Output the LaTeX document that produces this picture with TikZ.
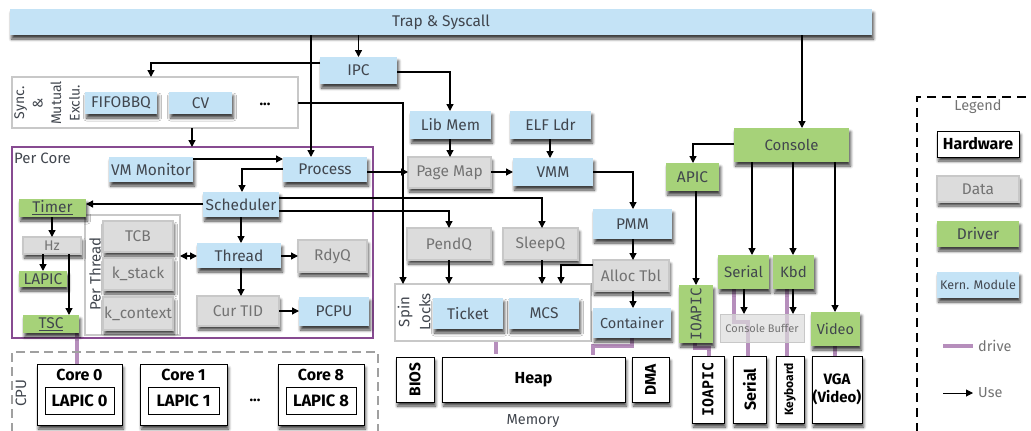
\documentclass[tikz,border=0pt]{standalone}
\usepackage{fontspec}
\setmainfont{Fira Sans}
\newfontfamily\monof{DejaVu Sans Mono}
\usetikzlibrary{arrows.meta,shadows.blur,calc}
\pgfdeclarelayer{bg}
\pgfsetlayers{bg,main}
\definecolor{kblue}{RGB}{196,227,246}
\definecolor{kgreen}{RGB}{166,210,121}
\definecolor{kgray}{RGB}{220,220,220}
\definecolor{kgrayb}{RGB}{200,200,200}
\definecolor{ktext}{RGB}{65,70,78}
\definecolor{kgtext}{RGB}{115,115,115}
\definecolor{kpurple}{RGB}{135,75,145}
\definecolor{kdrive}{RGB}{182,142,188}
\definecolor{kmem}{RGB}{212,212,212}
% \bx{style}{x1}{y1}{x2}{y2}{name}{text}
\newcommand{\bx}[7]{\node[#1,minimum width={(#4-#2)*1pt},minimum height={(#5-#3)*1pt}] (#6) at ({(#2+#4)/2},{(#3+#5)/2}) {#7};}
\newcommand{\fsz}[1]{\fontsize{#1}{#1}\selectfont}
\begin{document}
\begin{tikzpicture}[x=1pt,y=-1pt,
 sh/.style={blur shadow={shadow xshift=1.5pt,shadow yshift=-4pt,shadow blur steps=6,shadow blur radius=3pt,shadow opacity=75}},
 base/.style={inner sep=0pt,outer sep=0pt,font=\fsz{15.5}},
 kern/.style={base,sh,fill=kblue,text=ktext},
 datab/.style={base,sh,fill=kgray,draw=kgrayb,line width=1.2pt,text=kgtext},
 drv/.style={base,sh,fill=kgreen,text=ktext},
 hw/.style={base,sh,fill=white,draw=black,line width=1pt,font=\fsz{16}\bfseries},
 hwin/.style={base,fill=white,draw=black,line width=0.8pt,font=\fsz{16.5}\bfseries},
 grp/.style={draw=kgrayb,line width=1.2pt,inner sep=0pt,outer sep=0pt,fill=white},
 lbl/.style={inner sep=0pt,text=ktext,font=\fsz{15}},
 use/.style={-{Triangle[length=7pt,width=7pt]},line width=1.3pt},
 drive/.style={kdrive,line width=3.5pt},
]
\useasboundingbox (0,0) rectangle (1031,431);
% ---------- groups ----------
\bx{grp}{12}{77}{298}{128}{sync}{}
\node[lbl,rotate=90,align=center,font=\fontsize{14}{18.5}\selectfont] at (47,103) {Sync.\\\&\\Mutual\\Exclu.};
\bx{grp,draw=kpurple,line width=1.5pt,fill=none}{12}{147}{373}{338}{percore}{}
\node[lbl,anchor=west] at (14,158) {Per Core};
\bx{grp}{85}{215}{180}{335}{perthread}{}
\node[lbl,rotate=90] at (95,274) {Per Thread};
\bx{grp}{395}{284}{591}{341}{spin}{}
\node[lbl,rotate=90,align=center,font=\fontsize{15}{21}\selectfont] at (414,312) {Spin\\Locks};
\bx{grp,draw=kgrayb!80!black,dashed,dash pattern=on 9pt off 5pt,fill=none}{12}{352}{378}{445}{cpu}{}
\node[lbl,rotate=90] at (21,393) {CPU};
\bx{grp,draw=black,dashed,dash pattern=on 9pt off 6pt,fill=none}{917}{97}{1045}{445}{legend}{}
\node[lbl,text=kgtext,font=\fsz{14.5}] at (978,107) {Legend};
\begin{pgfonlayer}{bg}
\bx{grp,fill=kmem,draw=kgrayb,line width=1.5pt}{390}{349}{676}{445}{memory}{}
\end{pgfonlayer}
\node[lbl,font=\fsz{14.5}] at (533,421) {Memory};
% ---------- kernel modules ----------
\bx{kern}{10}{9}{872}{35}{trap}{Trap \& Syscall}
\bx{kern}{320}{57}{397}{84}{ipc}{IPC}
\bx{kern}{85}{92}{157}{114}{fifo}{FIFOBBQ}
\bx{kern}{169}{92}{232}{114}{cv}{CV}
\node[inner sep=0pt,font=\fsz{15}\bfseries] (sdots) at (265,104) {...};
\bx{kern}{109}{157}{193}{182}{vmmon}{VM Monitor}
\bx{kern}{283}{157}{367}{182}{process}{Process}
\bx{kern}{203}{192}{279}{217}{sched}{Scheduler}
\bx{kern}{197}{243}{281}{268}{thread}{Thread}
\bx{kern}{299}{297}{369}{326}{pcpu}{PCPU}
\bx{kern}{410}{111}{491}{139}{libmem}{Lib Mem}
\bx{kern}{510}{111}{591}{139}{elf}{ELF Ldr}
\bx{kern}{513}{158}{593}{186}{vmm}{VMM}
\bx{kern}{593}{209}{672}{239}{pmm}{PMM}
\bx{kern,font=\fsz{14.5}}{593}{308}{671}{338}{container}{Container}
\bx{kern}{433}{298}{503}{329}{ticket}{Ticket}
\bx{kern}{509}{298}{579}{329}{mcs}{MCS}
% ---------- data ----------
\bx{datab,font=\fsz{14}}{23}{237}{81}{254}{hz}{Hz}
\bx{datab}{103}{221}{173}{252}{tcb}{TCB}
\bx{datab}{103}{258}{173}{290}{kstack}{k\_stack}
\bx{datab}{103}{297}{173}{330}{kctx}{k\_context}
\bx{datab}{298}{240}{367}{272}{rdyq}{RdyQ}
\bx{datab}{197}{296}{279}{326}{curtid}{Cur TID}
\bx{datab}{408}{157}{491}{188}{pagemap}{Page Map}
\bx{datab}{407}{228}{491}{260}{pendq}{PendQ}
\bx{datab}{503}{228}{578}{260}{sleepq}{SleepQ}
\bx{datab}{593}{260}{669}{291}{alloc}{Alloc Tbl}
% ---------- drivers ----------
\bx{drv}{19}{199}{86}{217}{timer}{\underline{Timer}}
\bx{drv}{19}{271}{67}{287}{lapicd}{LAPIC}
\bx{drv}{23}{315}{79}{333}{tsc}{\underline{TSC}}
\bx{drv,font=\fsz{15}}{734}{128}{849}{162}{console}{Console}
\bx{drv}{666}{163}{719}{191}{apic}{APIC}
\bx{drv}{679}{285}{713}{343}{ioapicd}{}
\node[inner sep=0pt,rotate=90,text=ktext,font=\monof\fsz{14.5}] at (ioapicd) {IOAPIC};
\bx{drv,font=\fsz{15}}{718}{255}{769}{289}{serial}{Serial}
\bx{drv,font=\fsz{15}}{773}{255}{814}{289}{kbd}{Kbd}
\bx{drv,font=\fsz{14.5}}{811}{312}{860}{346}{video}{Video}
% ---------- hardware ----------
\bx{hw}{37}{364}{122}{425}{core0}{}
\bx{hw}{140}{364}{227}{425}{core1}{}
\bx{hw}{278}{364}{364}{425}{core8}{}
\node[anchor=north,inner sep=0pt,font=\fsz{16}\bfseries] at ($(core0.north)+(0,5)$) {Core 0};
\node[anchor=north,inner sep=0pt,font=\fsz{16}\bfseries] at ($(core1.north)+(0,5)$) {Core 1};
\node[anchor=north,inner sep=0pt,font=\fsz{16}\bfseries] at ($(core8.north)+(0,5)$) {Core 8};
\bx{hwin}{45}{387}{114}{414}{lapic0}{LAPIC 0}
\bx{hwin}{148}{387}{219}{414}{lapic1}{LAPIC 1}
\bx{hwin}{286}{387}{356}{414}{lapic8}{LAPIC 8}
\node[inner sep=0pt,font=\fsz{15}\bfseries] (cdots) at (255,400) {...};
\bx{hw}{396}{357}{434}{402}{bios}{}
\node[inner sep=0pt,rotate=90,font=\fsz{15.5}\bfseries] at (bios) {BIOS};
\bx{hw}{442}{357}{625}{402}{heap}{Heap}
\bx{hw}{632}{357}{669}{402}{dma}{}
\node[inner sep=0pt,rotate=90,font=\fsz{15.5}\bfseries] at (dma) {DMA};
\bx{hw}{692}{356}{724}{423}{ioapichw}{}
\node[inner sep=0pt,rotate=90,font=\monof\bfseries\fsz{15}] at (ioapichw) {IOAPIC};
\bx{hw}{733}{356}{766}{423}{serialhw}{}
\node[inner sep=0pt,rotate=90,font=\fsz{16}\bfseries] at (serialhw) {Serial};
\bx{hw}{776}{356}{804}{423}{kbdhw}{}
\node[inner sep=0pt,rotate=90,font=\fsz{12}\bfseries] at (kbdhw) {Keyboard};
\bx{hw,align=center,font=\fontsize{15}{18}\selectfont\bfseries}{812}{356}{862}{423}{vga}{VGA\\(Video)}
% ---------- legend ----------
\bx{hw}{937}{131}{1019}{157}{lhw}{Hardware}
\bx{datab}{937}{176}{1019}{202}{ldata}{Data}
\bx{drv}{937}{221}{1019}{247}{ldrv}{Driver}
\bx{kern,font=\fsz{12.5}}{937}{272}{1019}{298}{lkern}{Kern. Module}
\coordinate (ld1) at (943,346); \coordinate (ld2) at (973,346);
\coordinate (lu1) at (943,393); \coordinate (lu2) at (973,393);
\draw[drive] (ld1) -- (ld2);
\draw[-{Triangle[length=7pt,width=7pt]},line width=1pt] (lu1) -- (lu2);
\node[lbl,anchor=west,text=kgtext,font=\fsz{14.5}] at ($(ld2)+(5,0)$) {drive};
\node[lbl,anchor=west,text=kgtext,font=\fsz{14.5}] at ($(lu2)+(5,0)$) {Use};
% ---------- drive lines ----------
\coordinate (d1) at (77,0);
\coordinate (d2) at (496,0);
\coordinate (dA) at (632,0);
\coordinate (dB) at (593,346);
\coordinate (e1) at (695,0);
\coordinate (e2) at (709,348);
\coordinate (f1) at (734,0);
\coordinate (f2) at (748,322);
\coordinate (g1) at (787,0);
\coordinate (cV) at (835,0);
\begin{pgfonlayer}{bg}
\draw[drive] (tsc.south -| d1) -- (core0.north -| d1);
\draw[drive] (spin.south -| d2) -- ($(memory.north -| d2)+(0,5)$);
\draw[drive] (container.south -| dA) |- (dB) -- ($(memory.north -| dB)+(0,6)$);
\draw[drive] (ioapicd.south -| e1) |- (e2) -- (ioapichw.north -| e2);
\draw[drive] (serial.south -| f1) |- (f2) -- (serialhw.north -| f2);
\draw[drive] (kbd.south -| g1) -- (kbdhw.north -| g1);
\draw[drive] (video.south -| cV) -- (vga.north -| cV);
\end{pgfonlayer}
\bx{base,fill=kgray,fill opacity=0.7,draw=kgrayb,line width=0.8pt,text=kgtext,text opacity=1,font=\fsz{11}}{720}{314}{804}{342}{conbuf}{Console Buffer}
% ---------- use connectors ----------
\coordinate (cA) at (311,0);
\coordinate (cC) at (802,0);
\coordinate (p1) at (151,63);
\coordinate (p2) at (450,72);
\coordinate (p3) at (403,103);
\coordinate (cSy) at (192,0);
\coordinate (p4) at (0,159);
\coordinate (p5) at (242,169);
\coordinate (p6) at (0,172);
\coordinate (p7) at (0,204);
\coordinate (p8) at (542,198);
\coordinate (p9) at (449,211);
\coordinate (cT) at (52,0);
\coordinate (cL) at (43,0);
\coordinate (cS) at (69,0);
\coordinate (cth) at (241,0);
\coordinate (p10) at (0,256);
\coordinate (p11) at (0,311);
\coordinate (cE) at (550,0);
\coordinate (p12) at (633,172);
\coordinate (p13) at (561,265);
\coordinate (p14) at (693,144);
\coordinate (cAp) at (696,0);
\coordinate (cSe) at (752,0);
\coordinate (cK) at (793,0);
\coordinate (cSb) at (744,0);
\draw[use] (trap.south -| cA) -- (process.north -| cA);
\draw[use] (trap.south -| ipc.north) -- (ipc.north);
\draw[use] (trap.south -| cC) -- (console.north -| cC);
\draw[use] (ipc.west |- p1) -| (sync.north -| p1);
\draw[use] (ipc.east |- p2) -| (libmem.north -| p2);
\draw[use] (sync.east |- p3) -| (spin.north -| p3);
\draw[use] (sync.south -| cSy) -- (percore.north -| cSy);
\draw[use] (vmmon.east |- p4) -- (process.west |- p4);
\draw[use] (process.west |- p5) -| (sched.north -| p5);
\draw[use] (process.east |- p6) -- (pagemap.west |- p6);
\draw[use] (sched.west |- p7) -- (timer.east |- p7);
\draw[use] (sched.east |- p8) -| (sleepq.north -| p8);
\draw[use] (sched.east |- p9) -| (pendq.north -| p9);
\draw[use] (timer.south -| cT) -- (hz.north -| cT);
\draw[use] (hz.south -| cL) -- (lapicd.north -| cL);
\draw[use] (hz.south -| cS) -- (tsc.north -| cS);
\draw[use] (sched.south -| cth) -- (thread.north -| cth);
\draw[{Triangle[length=7pt,width=7pt]}-{Triangle[length=7pt,width=7pt]},line width=1.3pt] (perthread.east |- p10) -- (thread.west |- p10);
\draw[use] (thread.east |- p10) -- (rdyq.west |- p10);
\draw[use] (thread.south -| cth) -- (curtid.north -| cth);
\draw[use] (curtid.east |- p11) -- (pcpu.west |- p11);
\draw[use] (libmem.south -| p2) -- (pagemap.north -| p2);
\draw[use] (elf.south -| cE) -- (vmm.north -| cE);
\draw[use] (pagemap.east |- p6) -- (vmm.west |- p6);
\draw[use] (vmm.east |- p12) -| (pmm.north -| p12);
\draw[use] (pendq.south -| p9) -- (spin.north -| p9);
\draw[use] (sleepq.south -| p8) -- (spin.north -| p8);
\draw[use] (alloc.west |- p13) -| (spin.north -| p13);
\draw[use] (pmm.south -| p12) -- (alloc.north -| p12);
\draw[use] (alloc.south -| p12) -- (container.north -| p12);
\draw[use] (console.west |- p14) -| (apic.north -| p14);
\draw[use] (apic.south -| cAp) -- (ioapicd.north -| cAp);
\draw[use] (console.south -| cSe) -- (serial.north -| cSe);
\draw[use] (console.south -| cK) -- (kbd.north -| cK);
\draw[use] (console.south -| cV) -- (video.north -| cV);
\draw[use] (serial.south -| cSb) -- (conbuf.north -| cSb);
\draw[use] (kbd.south -| cK) -- (conbuf.north -| cK);
\end{tikzpicture}
\end{document}
